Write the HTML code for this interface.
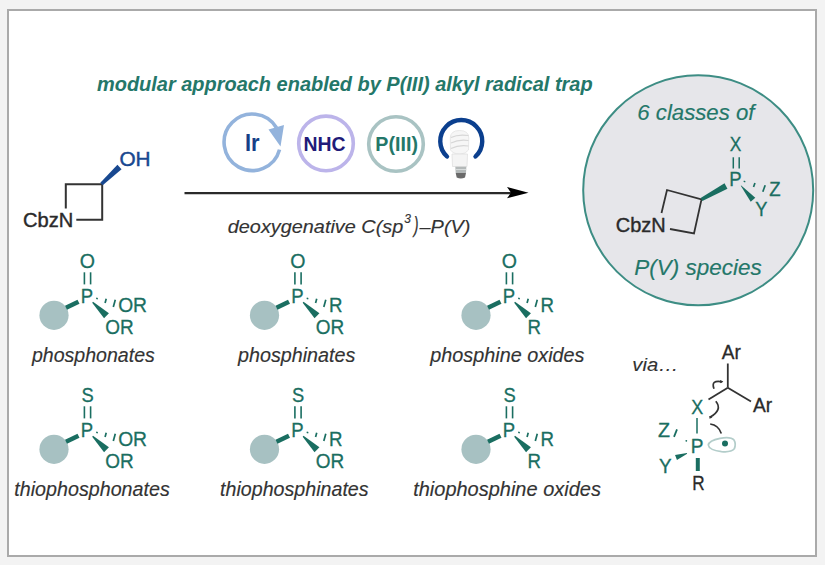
<!DOCTYPE html>
<html><head><meta charset="utf-8"><style>
html,body{margin:0;padding:0;width:825px;height:565px;overflow:hidden;background:#f3f3f3}
svg{display:block;font-family:"Liberation Sans", sans-serif}
</style></head><body>
<svg width="825" height="565" viewBox="0 0 825 565">
<rect x="0" y="0" width="825" height="565" fill="#f3f3f3"/>
<rect x="8" y="10" width="808" height="546" fill="#ffffff" stroke="#aaaaaa" stroke-width="2"/>
<text x="97.00" y="90.8" font-size="19.5" fill="#247769" font-weight="bold" font-style="italic" stroke="#247769" stroke-width="0" textLength="495.61" lengthAdjust="spacingAndGlyphs" >modular approach enabled by P(III) alkyl radical trap</text>
<circle cx="698.2" cy="190.3" r="115" fill="#e6e6ea" stroke="#3d8d84" stroke-width="2"/>
<path d="M 279.54 149.60 A 28.2 28.2 0 1 1 276.47 127.78" fill="none" stroke="#93b3dc" stroke-width="3.6"/>
<polygon points="268.5,129.5 284,125 280.5,146.5" fill="#93b3dc"/>
<text x="244.89" y="150.8" font-size="23.5" fill="#163f88" font-weight="bold" font-style="normal" stroke="#163f88" stroke-width="0" textLength="14.62" lengthAdjust="spacingAndGlyphs" >Ir</text>
<circle cx="326" cy="143.4" r="27.3" fill="none" stroke="#bcb4ea" stroke-width="3.6"/>
<text x="303.53" y="150.8" font-size="19.5" fill="#211b79" font-weight="bold" font-style="normal" stroke="#211b79" stroke-width="0" textLength="42.10" lengthAdjust="spacingAndGlyphs" >NHC</text>
<circle cx="396" cy="144" r="27.3" fill="none" stroke="#a9c3c3" stroke-width="3.6"/>
<text x="375.32" y="150.8" font-size="19.5" fill="#247769" font-weight="bold" font-style="normal" stroke="#247769" stroke-width="0" textLength="42.63" lengthAdjust="spacingAndGlyphs" >P(III)</text>
<path d="M 447 156.5 A 21 21 0 1 1 475.5 156.5" fill="none" stroke="#0b3f8e" stroke-width="4.4" stroke-linecap="round"/>
<g>
<path d="M450.3 138 Q450.5 130.5 459.5 130.5 Q468.8 130.5 468.8 138 L468.5 150 Q466 154 460 154 Q453 154 450.5 150 Z" fill="#f6f6f6" stroke="#e2e2e2" stroke-width="0.8"/>
<path d="M451 137.5 Q458 134 468.5 135.5 M451 143 Q459 139 468.5 140.5 M451 148.5 Q459 144.5 468.5 146" fill="none" stroke="#d6d6d6" stroke-width="1.2"/>
<path d="M452 154 L467.5 154 L467 166.5 L452.5 166.5 Z" fill="#f4f4f4" stroke="#e0e0e0" stroke-width="0.8"/>
<path d="M455.3 166.8 L466.4 166.8 L466 173 L455.7 173 Z" fill="#b4b9b9"/>
<path d="M455.7 173 L466 173 L465 177.5 Q460.8 179.5 456.7 177.5 Z" fill="#6a6a6a"/>
<path d="M455.5 169.5 L466.2 169.5" stroke="#d8dcdc" stroke-width="1"/>
</g>
<line x1="184.50" y1="193.10" x2="512.00" y2="193.10" stroke="#2a2a2a" stroke-width="2.2" stroke-linecap="butt"/>
<polygon points="507,187 528.5,192.8 507,198.2 511,192.8" fill="#000"/>
<text x="227.80" y="233" font-size="18.8" fill="#333333" font-weight="normal" font-style="italic" stroke="#333333" stroke-width="0.15" textLength="175.41" lengthAdjust="spacingAndGlyphs" >deoxygenative C(sp</text>
<text x="404.26" y="223.3" font-size="12" fill="#333333" font-weight="normal" font-style="italic" stroke="#333333" stroke-width="0.15" textLength="6.67" lengthAdjust="spacingAndGlyphs" >3</text>
<text x="413.72" y="232" font-size="22" fill="#333333" font-weight="normal" font-style="italic" stroke="#333333" stroke-width="0.25" textLength="4.73" lengthAdjust="spacingAndGlyphs" >)</text>
<text x="419.50" y="233" font-size="18.8" fill="#333333" font-weight="normal" font-style="italic" stroke="#333333" stroke-width="0.15" textLength="50.96" lengthAdjust="spacingAndGlyphs" >–P(V)</text>
<polyline points="65.8,208.5 65.8,184.3 102.2,184.3 102.2,219.8 76.3,219.8" fill="none" stroke="#333" stroke-width="2"/>
<polygon points="102.70,185.27 121.56,169.18 117.44,164.82 100.30,182.73" fill="#184890"/>
<text x="119.47" y="166.3" font-size="20.5" fill="#184890" font-weight="normal" font-style="normal" stroke="#184890" stroke-width="0.45" textLength="31.13" lengthAdjust="spacingAndGlyphs" >OH</text>
<text x="23.00" y="227" font-size="20" fill="#2a2a2a" font-weight="normal" font-style="normal" stroke="#2a2a2a" stroke-width="0.4" textLength="50.26" lengthAdjust="spacingAndGlyphs" >CbzN</text>
<text x="637.29" y="119.5" font-size="22" fill="#247769" font-weight="normal" font-style="italic" stroke="#247769" stroke-width="0.15" textLength="117.16" lengthAdjust="spacingAndGlyphs" >6 classes of</text>
<text x="634.23" y="274.8" font-size="22" fill="#247769" font-weight="normal" font-style="italic" stroke="#247769" stroke-width="0.15" textLength="127.42" lengthAdjust="spacingAndGlyphs" >P(V) species</text>
<polyline points="661.5,213 667,190 701.5,199.5 694,233.5 670,229" fill="none" stroke="#333" stroke-width="1.8"/>
<text x="615.80" y="231.7" font-size="20" fill="#2a2a2a" font-weight="normal" font-style="normal" stroke="#2a2a2a" stroke-width="0.4" textLength="49.94" lengthAdjust="spacingAndGlyphs" >CbzN</text>
<polygon points="702.34,201.03 727.45,188.63 724.55,183.37 700.66,197.97" fill="#1a6e61"/>
<text x="729.75" y="150.9" font-size="20" fill="#1a6e61" font-weight="normal" font-style="normal" stroke="#1a6e61" stroke-width="0.3" textLength="11.54" lengthAdjust="spacingAndGlyphs" >X</text>
<line x1="733.30" y1="157.30" x2="733.30" y2="168.50" stroke="#1a6e61" stroke-width="1.5" stroke-linecap="butt"/>
<line x1="739.20" y1="157.30" x2="739.20" y2="168.50" stroke="#1a6e61" stroke-width="1.5" stroke-linecap="butt"/>
<text x="729.32" y="185.8" font-size="20" fill="#1a6e61" font-weight="normal" font-style="normal" stroke="#1a6e61" stroke-width="0.3" textLength="12.35" lengthAdjust="spacingAndGlyphs" >P</text>
<line x1="744.74" y1="180.84" x2="744.26" y2="182.16" stroke="#1a6e61" stroke-width="1.7" stroke-linecap="butt"/>
<line x1="754.96" y1="183.02" x2="753.54" y2="186.98" stroke="#1a6e61" stroke-width="1.7" stroke-linecap="butt"/>
<line x1="765.18" y1="185.21" x2="762.82" y2="191.79" stroke="#1a6e61" stroke-width="1.7" stroke-linecap="butt"/>
<text x="769.24" y="195.7" font-size="20" fill="#1a6e61" font-weight="normal" font-style="normal" stroke="#1a6e61" stroke-width="0.3" textLength="11.33" lengthAdjust="spacingAndGlyphs" >Z</text>
<polygon points="740.77,185.79 750.71,201.74 755.29,197.86 741.23,185.41" fill="#1a6e61"/>
<text x="755.13" y="216.4" font-size="20" fill="#1a6e61" font-weight="normal" font-style="normal" stroke="#1a6e61" stroke-width="0.3" textLength="12.18" lengthAdjust="spacingAndGlyphs" >Y</text>
<circle cx="54" cy="315.3" r="14.6" fill="#a7c1c2"/>
<line x1="66.00" y1="307.80" x2="78.50" y2="301.80" stroke="#1a6e61" stroke-width="4.6" stroke-linecap="butt"/>
<text x="79.82" y="267.8" font-size="20.5" fill="#1a6e61" font-weight="normal" font-style="normal" stroke="#1a6e61" stroke-width="0.3" textLength="15.22" lengthAdjust="spacingAndGlyphs" >O</text>
<line x1="84.40" y1="272.30" x2="84.40" y2="284.40" stroke="#1a6e61" stroke-width="1.6" stroke-linecap="butt"/>
<line x1="90.60" y1="272.30" x2="90.60" y2="284.40" stroke="#1a6e61" stroke-width="1.6" stroke-linecap="butt"/>
<text x="80.82" y="302.5" font-size="20" fill="#1a6e61" font-weight="normal" font-style="normal" stroke="#1a6e61" stroke-width="0.3" textLength="12.35" lengthAdjust="spacingAndGlyphs" >P</text>
<line x1="97.19" y1="297.83" x2="96.81" y2="299.17" stroke="#1a6e61" stroke-width="1.7" stroke-linecap="butt"/>
<line x1="106.24" y1="298.76" x2="105.06" y2="303.04" stroke="#1a6e61" stroke-width="1.7" stroke-linecap="butt"/>
<line x1="115.30" y1="299.69" x2="113.30" y2="306.91" stroke="#1a6e61" stroke-width="1.7" stroke-linecap="butt"/>
<polygon points="92.18,302.63 104.05,318.30 108.95,313.30 93.02,301.77" fill="#1a6e61"/>
<text x="118.13" y="312.2" font-size="20" fill="#1a6e61" font-weight="normal" font-style="normal" stroke="#1a6e61" stroke-width="0.3" textLength="28.88" lengthAdjust="spacingAndGlyphs" >OR</text>
<text x="105.24" y="333.6" font-size="20" fill="#1a6e61" font-weight="normal" font-style="normal" stroke="#1a6e61" stroke-width="0.3" textLength="28.46" lengthAdjust="spacingAndGlyphs" >OR</text>
<circle cx="264.5" cy="315.3" r="14.6" fill="#a7c1c2"/>
<line x1="276.50" y1="307.80" x2="289.00" y2="301.80" stroke="#1a6e61" stroke-width="4.6" stroke-linecap="butt"/>
<text x="290.32" y="267.8" font-size="20.5" fill="#1a6e61" font-weight="normal" font-style="normal" stroke="#1a6e61" stroke-width="0.3" textLength="15.22" lengthAdjust="spacingAndGlyphs" >O</text>
<line x1="294.90" y1="272.30" x2="294.90" y2="284.40" stroke="#1a6e61" stroke-width="1.6" stroke-linecap="butt"/>
<line x1="301.10" y1="272.30" x2="301.10" y2="284.40" stroke="#1a6e61" stroke-width="1.6" stroke-linecap="butt"/>
<text x="291.32" y="302.5" font-size="20" fill="#1a6e61" font-weight="normal" font-style="normal" stroke="#1a6e61" stroke-width="0.3" textLength="12.35" lengthAdjust="spacingAndGlyphs" >P</text>
<line x1="307.69" y1="297.83" x2="307.31" y2="299.17" stroke="#1a6e61" stroke-width="1.7" stroke-linecap="butt"/>
<line x1="316.74" y1="298.76" x2="315.56" y2="303.04" stroke="#1a6e61" stroke-width="1.7" stroke-linecap="butt"/>
<line x1="325.80" y1="299.69" x2="323.80" y2="306.91" stroke="#1a6e61" stroke-width="1.7" stroke-linecap="butt"/>
<polygon points="302.68,302.63 314.55,318.30 319.45,313.30 303.52,301.77" fill="#1a6e61"/>
<text x="329.01" y="312.2" font-size="20" fill="#1a6e61" font-weight="normal" font-style="normal" stroke="#1a6e61" stroke-width="0.3" textLength="13.48" lengthAdjust="spacingAndGlyphs" >R</text>
<text x="315.74" y="333.6" font-size="20" fill="#1a6e61" font-weight="normal" font-style="normal" stroke="#1a6e61" stroke-width="0.3" textLength="28.46" lengthAdjust="spacingAndGlyphs" >OR</text>
<circle cx="476" cy="315.3" r="14.6" fill="#a7c1c2"/>
<line x1="488.00" y1="307.80" x2="500.50" y2="301.80" stroke="#1a6e61" stroke-width="4.6" stroke-linecap="butt"/>
<text x="501.82" y="267.8" font-size="20.5" fill="#1a6e61" font-weight="normal" font-style="normal" stroke="#1a6e61" stroke-width="0.3" textLength="15.22" lengthAdjust="spacingAndGlyphs" >O</text>
<line x1="506.40" y1="272.30" x2="506.40" y2="284.40" stroke="#1a6e61" stroke-width="1.6" stroke-linecap="butt"/>
<line x1="512.60" y1="272.30" x2="512.60" y2="284.40" stroke="#1a6e61" stroke-width="1.6" stroke-linecap="butt"/>
<text x="502.82" y="302.5" font-size="20" fill="#1a6e61" font-weight="normal" font-style="normal" stroke="#1a6e61" stroke-width="0.3" textLength="12.35" lengthAdjust="spacingAndGlyphs" >P</text>
<line x1="519.19" y1="297.83" x2="518.81" y2="299.17" stroke="#1a6e61" stroke-width="1.7" stroke-linecap="butt"/>
<line x1="528.24" y1="298.76" x2="527.06" y2="303.04" stroke="#1a6e61" stroke-width="1.7" stroke-linecap="butt"/>
<line x1="537.30" y1="299.69" x2="535.30" y2="306.91" stroke="#1a6e61" stroke-width="1.7" stroke-linecap="butt"/>
<polygon points="514.18,302.63 526.05,318.30 530.95,313.30 515.02,301.77" fill="#1a6e61"/>
<text x="540.51" y="312.2" font-size="20" fill="#1a6e61" font-weight="normal" font-style="normal" stroke="#1a6e61" stroke-width="0.3" textLength="13.48" lengthAdjust="spacingAndGlyphs" >R</text>
<text x="527.51" y="333.6" font-size="20" fill="#1a6e61" font-weight="normal" font-style="normal" stroke="#1a6e61" stroke-width="0.3" textLength="13.48" lengthAdjust="spacingAndGlyphs" >R</text>
<circle cx="54" cy="449.3" r="14.6" fill="#a7c1c2"/>
<line x1="66.00" y1="441.80" x2="78.50" y2="435.80" stroke="#1a6e61" stroke-width="4.6" stroke-linecap="butt"/>
<text x="81.57" y="401.5" font-size="20" fill="#1a6e61" font-weight="normal" font-style="normal" stroke="#1a6e61" stroke-width="0.3" textLength="12.21" lengthAdjust="spacingAndGlyphs" >S</text>
<line x1="84.40" y1="406.30" x2="84.40" y2="418.40" stroke="#1a6e61" stroke-width="1.6" stroke-linecap="butt"/>
<line x1="90.60" y1="406.30" x2="90.60" y2="418.40" stroke="#1a6e61" stroke-width="1.6" stroke-linecap="butt"/>
<text x="80.82" y="436.5" font-size="20" fill="#1a6e61" font-weight="normal" font-style="normal" stroke="#1a6e61" stroke-width="0.3" textLength="12.35" lengthAdjust="spacingAndGlyphs" >P</text>
<line x1="97.19" y1="431.83" x2="96.81" y2="433.17" stroke="#1a6e61" stroke-width="1.7" stroke-linecap="butt"/>
<line x1="106.24" y1="432.76" x2="105.06" y2="437.04" stroke="#1a6e61" stroke-width="1.7" stroke-linecap="butt"/>
<line x1="115.30" y1="433.69" x2="113.30" y2="440.91" stroke="#1a6e61" stroke-width="1.7" stroke-linecap="butt"/>
<polygon points="92.18,436.63 104.05,452.30 108.95,447.30 93.02,435.77" fill="#1a6e61"/>
<text x="118.13" y="446.2" font-size="20" fill="#1a6e61" font-weight="normal" font-style="normal" stroke="#1a6e61" stroke-width="0.3" textLength="28.88" lengthAdjust="spacingAndGlyphs" >OR</text>
<text x="105.24" y="467.6" font-size="20" fill="#1a6e61" font-weight="normal" font-style="normal" stroke="#1a6e61" stroke-width="0.3" textLength="28.46" lengthAdjust="spacingAndGlyphs" >OR</text>
<circle cx="264.5" cy="449.3" r="14.6" fill="#a7c1c2"/>
<line x1="276.50" y1="441.80" x2="289.00" y2="435.80" stroke="#1a6e61" stroke-width="4.6" stroke-linecap="butt"/>
<text x="292.07" y="401.5" font-size="20" fill="#1a6e61" font-weight="normal" font-style="normal" stroke="#1a6e61" stroke-width="0.3" textLength="12.21" lengthAdjust="spacingAndGlyphs" >S</text>
<line x1="294.90" y1="406.30" x2="294.90" y2="418.40" stroke="#1a6e61" stroke-width="1.6" stroke-linecap="butt"/>
<line x1="301.10" y1="406.30" x2="301.10" y2="418.40" stroke="#1a6e61" stroke-width="1.6" stroke-linecap="butt"/>
<text x="291.32" y="436.5" font-size="20" fill="#1a6e61" font-weight="normal" font-style="normal" stroke="#1a6e61" stroke-width="0.3" textLength="12.35" lengthAdjust="spacingAndGlyphs" >P</text>
<line x1="307.69" y1="431.83" x2="307.31" y2="433.17" stroke="#1a6e61" stroke-width="1.7" stroke-linecap="butt"/>
<line x1="316.74" y1="432.76" x2="315.56" y2="437.04" stroke="#1a6e61" stroke-width="1.7" stroke-linecap="butt"/>
<line x1="325.80" y1="433.69" x2="323.80" y2="440.91" stroke="#1a6e61" stroke-width="1.7" stroke-linecap="butt"/>
<polygon points="302.68,436.63 314.55,452.30 319.45,447.30 303.52,435.77" fill="#1a6e61"/>
<text x="329.01" y="446.2" font-size="20" fill="#1a6e61" font-weight="normal" font-style="normal" stroke="#1a6e61" stroke-width="0.3" textLength="13.48" lengthAdjust="spacingAndGlyphs" >R</text>
<text x="315.74" y="467.6" font-size="20" fill="#1a6e61" font-weight="normal" font-style="normal" stroke="#1a6e61" stroke-width="0.3" textLength="28.46" lengthAdjust="spacingAndGlyphs" >OR</text>
<circle cx="476" cy="449.3" r="14.6" fill="#a7c1c2"/>
<line x1="488.00" y1="441.80" x2="500.50" y2="435.80" stroke="#1a6e61" stroke-width="4.6" stroke-linecap="butt"/>
<text x="503.57" y="401.5" font-size="20" fill="#1a6e61" font-weight="normal" font-style="normal" stroke="#1a6e61" stroke-width="0.3" textLength="12.21" lengthAdjust="spacingAndGlyphs" >S</text>
<line x1="506.40" y1="406.30" x2="506.40" y2="418.40" stroke="#1a6e61" stroke-width="1.6" stroke-linecap="butt"/>
<line x1="512.60" y1="406.30" x2="512.60" y2="418.40" stroke="#1a6e61" stroke-width="1.6" stroke-linecap="butt"/>
<text x="502.82" y="436.5" font-size="20" fill="#1a6e61" font-weight="normal" font-style="normal" stroke="#1a6e61" stroke-width="0.3" textLength="12.35" lengthAdjust="spacingAndGlyphs" >P</text>
<line x1="519.19" y1="431.83" x2="518.81" y2="433.17" stroke="#1a6e61" stroke-width="1.7" stroke-linecap="butt"/>
<line x1="528.24" y1="432.76" x2="527.06" y2="437.04" stroke="#1a6e61" stroke-width="1.7" stroke-linecap="butt"/>
<line x1="537.30" y1="433.69" x2="535.30" y2="440.91" stroke="#1a6e61" stroke-width="1.7" stroke-linecap="butt"/>
<polygon points="514.18,436.63 526.05,452.30 530.95,447.30 515.02,435.77" fill="#1a6e61"/>
<text x="540.51" y="446.2" font-size="20" fill="#1a6e61" font-weight="normal" font-style="normal" stroke="#1a6e61" stroke-width="0.3" textLength="13.48" lengthAdjust="spacingAndGlyphs" >R</text>
<text x="527.51" y="467.6" font-size="20" fill="#1a6e61" font-weight="normal" font-style="normal" stroke="#1a6e61" stroke-width="0.3" textLength="13.48" lengthAdjust="spacingAndGlyphs" >R</text>
<text x="31.89" y="362" font-size="19.6" fill="#333333" font-weight="normal" font-style="italic" stroke="#333333" stroke-width="0.15" textLength="123.00" lengthAdjust="spacingAndGlyphs" >phosphonates</text>
<text x="237.99" y="362" font-size="19.6" fill="#333333" font-weight="normal" font-style="italic" stroke="#333333" stroke-width="0.15" textLength="117.40" lengthAdjust="spacingAndGlyphs" >phosphinates</text>
<text x="430.29" y="362" font-size="19.6" fill="#333333" font-weight="normal" font-style="italic" stroke="#333333" stroke-width="0.15" textLength="154.20" lengthAdjust="spacingAndGlyphs" >phosphine oxides</text>
<text x="14.31" y="495.6" font-size="19.6" fill="#333333" font-weight="normal" font-style="italic" stroke="#333333" stroke-width="0.15" textLength="155.48" lengthAdjust="spacingAndGlyphs" >thiophosphonates</text>
<text x="220.11" y="495.6" font-size="19.6" fill="#333333" font-weight="normal" font-style="italic" stroke="#333333" stroke-width="0.15" textLength="148.48" lengthAdjust="spacingAndGlyphs" >thiophosphinates</text>
<text x="413.20" y="495.6" font-size="19.6" fill="#333333" font-weight="normal" font-style="italic" stroke="#333333" stroke-width="0.15" textLength="187.70" lengthAdjust="spacingAndGlyphs" >thiophosphine oxides</text>
<text x="632.39" y="371.2" font-size="19" fill="#333333" font-weight="normal" font-style="italic" stroke="#333333" stroke-width="0.1" textLength="46.15" lengthAdjust="spacingAndGlyphs" >via…</text>
<text x="721.80" y="359.2" font-size="19.5" fill="#2a2a2a" font-weight="normal" font-style="normal" stroke="#2a2a2a" stroke-width="0.3" textLength="19.05" lengthAdjust="spacingAndGlyphs" >Ar</text>
<text x="752.90" y="412.2" font-size="19.5" fill="#2a2a2a" font-weight="normal" font-style="normal" stroke="#2a2a2a" stroke-width="0.3" textLength="19.15" lengthAdjust="spacingAndGlyphs" >Ar</text>
<line x1="727.80" y1="363.50" x2="727.80" y2="387.70" stroke="#333" stroke-width="1.8" stroke-linecap="butt"/>
<line x1="727.80" y1="387.70" x2="751.00" y2="401.50" stroke="#333" stroke-width="1.8" stroke-linecap="butt"/>
<line x1="727.80" y1="387.70" x2="708.50" y2="399.50" stroke="#333" stroke-width="1.8" stroke-linecap="butt"/>
<path d="M 714 388.8 Q 710.5 379.5 722.3 381.8" fill="none" stroke="#333" stroke-width="1.7"/>
<polygon points="720,380 723.3,381.5 720.3,383.3" fill="#333"/>
<path d="M 715.8 401.3 Q 723 410 709.8 417.3" fill="none" stroke="#333" stroke-width="1.7"/>
<polygon points="709.3,416 712.5,417.5 709.5,418.8" fill="#333"/>
<path d="M 710.2 424 Q 718.5 425 721.3 433.5" fill="none" stroke="#333" stroke-width="1.7"/>
<text x="691.14" y="413.6" font-size="20" fill="#1a6e61" font-weight="normal" font-style="normal" stroke="#1a6e61" stroke-width="0.3" textLength="11.96" lengthAdjust="spacingAndGlyphs" >X</text>
<line x1="697.00" y1="418.00" x2="697.00" y2="433.50" stroke="#1a6e61" stroke-width="1.5" stroke-linecap="butt"/>
<text x="657.91" y="436.6" font-size="20" fill="#1a6e61" font-weight="normal" font-style="normal" stroke="#1a6e61" stroke-width="0.3" textLength="11.99" lengthAdjust="spacingAndGlyphs" >Z</text>
<line x1="677.00" y1="429.30" x2="674.00" y2="436.80" stroke="#1a6e61" stroke-width="1.8" stroke-linecap="butt"/>
<circle cx="686.3" cy="440.8" r="0.9" fill="#1a6e61"/>
<text x="690.77" y="453.4" font-size="20" fill="#1a6e61" font-weight="normal" font-style="normal" stroke="#1a6e61" stroke-width="0.3" textLength="12.72" lengthAdjust="spacingAndGlyphs" >P</text>
<path d="M 708.3 445 Q 709 440.5 720 438.3 Q 731 436.5 734 440 Q 736.3 444 734.3 448.8 Q 731 452.6 721.5 451.6 Q 709 450 708.3 445 Z" fill="none" stroke="#b3cdca" stroke-width="1.7"/>
<circle cx="725" cy="443.6" r="3" fill="#1a6e61"/>
<polygon points="686.86,452.93 675.02,454.93 676.98,460.07 687.14,453.67" fill="#1a6e61"/>
<text x="659.12" y="472.6" font-size="20" fill="#1a6e61" font-weight="normal" font-style="normal" stroke="#1a6e61" stroke-width="0.3" textLength="12.60" lengthAdjust="spacingAndGlyphs" >Y</text>
<line x1="697.80" y1="458.00" x2="697.80" y2="471.00" stroke="#1a6e61" stroke-width="4" stroke-linecap="butt"/>
<text x="692.13" y="489.5" font-size="19.5" fill="#2a2a2a" font-weight="normal" font-style="normal" stroke="#2a2a2a" stroke-width="0.3" textLength="12.40" lengthAdjust="spacingAndGlyphs" >R</text>
</svg>
</body></html>
